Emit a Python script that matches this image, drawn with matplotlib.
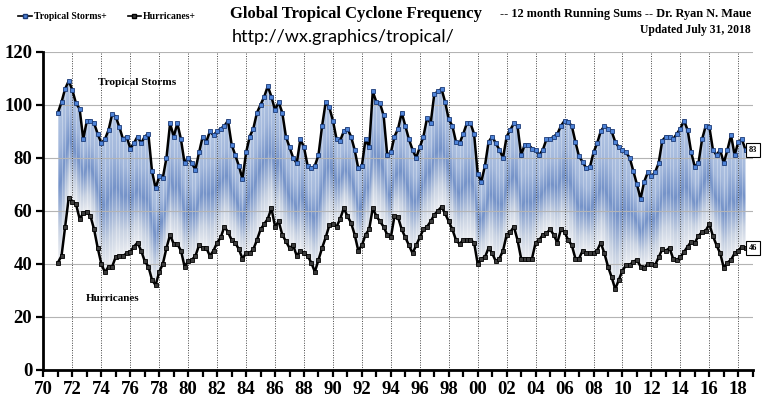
import numpy as np
import matplotlib
matplotlib.use('Agg')
import matplotlib.pyplot as plt
from matplotlib.colors import LinearSegmentedColormap
from matplotlib.patches import Polygon
from matplotlib.lines import Line2D

# 12-month running sums at quarterly steps (Jan 1971 .. Jul 2018)
tropical_storms = [
    97, 101, 106, 109,      # 1971
    105.5, 100.5, 98.5, 87,  # 1972
    94, 94, 93, 89,          # 1973
    85.5, 87, 90.5, 96.5,    # 1974
    95.5, 91.5, 87, 88,      # 1975
    83.5, 85.5, 88, 85.5,    # 1976
    88, 89, 75, 68.5,        # 1977
    73, 72.5, 80, 93,        # 1978
    88, 93, 87, 78,          # 1979
    80, 78, 75.5, 82,        # 1980
    88, 86, 90, 88.5,        # 1981
    90, 91, 92, 94,          # 1982
    85, 81, 77, 72,          # 1983
    82, 88, 91, 97,          # 1984
    100, 103, 107, 103,      # 1985
    98, 101, 97, 88,         # 1986
    84, 80, 78, 87,          # 1987
    84, 77, 76, 77,          # 1988
    81, 92, 101, 99,         # 1989
    94, 87, 86.5, 90,        # 1990
    91, 88, 83, 76,          # 1991
    77, 87, 84, 105,         # 1992
    101, 100.5, 96, 81,      # 1993
    82, 88, 91, 97,          # 1994
    92, 87, 83, 80,          # 1995
    84, 88, 95, 93,          # 1996
    104, 105, 106, 101,      # 1997
    94.5, 92, 86, 85.5,      # 1998
    89, 93, 93, 89,          # 1999
    74, 71, 77, 86,          # 2000
    88, 85.5, 83, 80,        # 2001
    88, 90.5, 93, 92,        # 2002
    81, 85, 85, 83.5,        # 2003
    83, 81, 83, 87,          # 2004
    87, 88, 89, 92,          # 2005
    94, 93.5, 92, 86,        # 2006
    80.5, 78.5, 76, 76.5,    # 2007
    82, 85.5, 90, 92,        # 2008
    91, 90, 86, 84,          # 2009
    83, 82, 80, 75,          # 2010
    70, 64.5, 71, 74.5,      # 2011
    73, 74.5, 78, 86.5,      # 2012
    88, 88, 87, 89,          # 2013
    91, 94, 90.5, 82,        # 2014
    76.6, 78, 87, 92,        # 2015
    91.7, 83, 81, 83,        # 2016
    78, 83, 88.5, 81,        # 2017
    86, 87, 83,              # 2018
]

hurricanes = [
    40.5, 43, 54, 65,        # 1971
    63.4, 62.5, 57, 59,      # 1972
    59.7, 58, 53, 46,        # 1973
    40, 36.8, 39, 39,        # 1974
    42.7, 43, 43, 44,        # 1975
    44.6, 46.5, 48, 45,      # 1976
    41, 39, 34, 32,          # 1977
    37, 40, 46, 51,          # 1978
    47.5, 47.5, 45, 39,      # 1979
    41, 41.5, 43, 47,        # 1980
    46, 46, 43, 45,          # 1981
    48, 50, 54, 52,          # 1982
    49, 48, 45.5, 42,        # 1983
    44, 44, 45.5, 49,        # 1984
    53, 55, 57, 61,          # 1985
    54, 56, 51, 48.5,        # 1986
    46, 47, 43, 45,          # 1987
    44, 43, 40.5, 37,        # 1988
    41.5, 46, 50, 54.5,      # 1989
    55, 54, 57, 61,          # 1990
    58, 55.5, 51, 45,        # 1991
    47, 51, 53, 61,          # 1992
    58, 56, 54, 51,          # 1993
    50, 58, 57.5, 53,        # 1994
    50, 47, 44, 47,          # 1995
    50, 53, 54, 56,          # 1996
    58.5, 60, 61.5, 59,      # 1997
    56, 53, 49, 47.5,        # 1998
    49, 49, 49, 48,          # 1999
    40, 42, 42.5, 46,        # 2000
    44, 41, 42, 45,          # 2001
    51, 52, 54, 49,          # 2002
    42, 42, 42, 42,          # 2003
    48, 49, 51, 51.5,        # 2004
    53, 51, 48, 53,          # 2005
    52, 49, 47, 42,          # 2006
    42, 45, 44, 44,          # 2007
    44, 45, 48, 44,          # 2008
    39, 35, 30.5, 34,        # 2009
    37.5, 39.5, 39.6, 40.8,  # 2010
    41.5, 39, 38.5, 40,      # 2011
    40, 39.5, 42.5, 45.5,    # 2012
    45, 46, 42, 41.5,        # 2013
    42.5, 44.5, 46.5, 48.4,  # 2014
    48, 50.5, 52, 52.5,      # 2015
    55, 50.5, 47, 44,        # 2016
    38.5, 40.5, 41.5, 44,    # 2017
    45, 46.5, 46,            # 2018
]

years = 1971 + 0.25 * np.arange(len(tropical_storms))
ts = np.array(tropical_storms, dtype=float)
hu = np.array(hurricanes, dtype=float)

serif = 'Liberation Serif'

fig = plt.figure(figsize=(7.7, 4.0), dpi=100)
ax = fig.add_axes([0.0564, 0.075, 0.9212, 0.7958])
ax.set_xlim(1970, 2019)
ax.set_ylim(0, 120)

# gradient shading between the two curves, clipped to the band
cmap = LinearSegmentedColormap.from_list('band', [
    (0.0, '#eceef2'), (0.2, '#c9d3e3'), (0.5, '#7593c9'),
    (0.75, '#a3b8dc'), (1.0, '#b2c5e3')])
xg = np.linspace(years[0], years[-1], 1600)
yg = np.linspace(0, 120, 700)
lo = np.interp(xg, years, hu)
hi = np.interp(xg, years, ts)
frac = np.clip((yg[:, None] - lo[None, :]) / (hi - lo)[None, :], 0, 1)
im = ax.imshow(frac, extent=[xg[0], xg[-1], 0, 120], origin='lower',
               cmap=cmap, vmin=0, vmax=1, aspect='auto', zorder=1,
               interpolation='bilinear')
band = Polygon(np.column_stack([np.r_[years, years[::-1]], np.r_[ts, hu[::-1]]]),
               closed=True, facecolor='none', edgecolor='none')
ax.add_patch(band)
im.set_clip_path(band)
ax.vlines(years, hu, ts, colors='white', alpha=0.3, lw=0.7, zorder=1.2)

# grid
for v in range(20, 121, 20):
    ax.axhline(v, color='#b4b4b4', lw=0.8, zorder=1.5)
for yr in range(1972, 2019, 2):
    ax.axvline(yr, color='#444444', lw=0.7, ls=(0, (1, 1.5)), zorder=1.5)

ax.plot(years, ts, color='black', lw=1.8, marker='s', ms=3.4,
        mfc='#4f84d8', mec='#1d3c78', mew=0.6, zorder=3)
ax.plot(years, hu, color='black', lw=1.8, marker='s', ms=3.4,
        mfc='#3a3a3a', mec='black', mew=0.6, zorder=3)

ax.text(1976.5, 108.3, 'Tropical Storms', family=serif, fontweight='bold',
        fontsize=8.2, ha='center', va='center', zorder=4)
ax.text(1974.8, 27, 'Hurricanes', family=serif, fontweight='bold',
        fontsize=8, ha='center', va='center', zorder=4)

# end-value boxes
for val in (ts[-1], hu[-1]):
    ax.annotate(f'{val:.0f}', xy=(years[-1], val), xytext=(2018.75, val),
                family=serif, fontweight='bold', fontsize=6, ha='left',
                va='center', annotation_clip=False,
                bbox=dict(boxstyle='square,pad=0.35', fc='white', ec='black', lw=0.8))

# axes styling
for side in ('top', 'right'):
    ax.spines[side].set_visible(False)
for side in ('left', 'bottom'):
    ax.spines[side].set_linewidth(2.0)
ax.set_xticks(range(1970, 2019, 2))
ax.set_xticklabels([f'{y % 100:02d}' for y in range(1970, 2019, 2)])
ax.set_xticks(range(1971, 2020, 2), minor=True)
ax.set_yticks(range(0, 121, 20))
ax.tick_params(which='both', direction='out', length=5, width=1.6)
ax.tick_params(axis='both', labelsize=13.5, pad=3)
for lab in ax.get_xticklabels() + ax.get_yticklabels():
    lab.set_family(serif)
    lab.set_fontweight('bold')

# header
fig.text(0.2987, 0.955, 'Global Tropical Cyclone Frequency', family=serif,
         fontweight='bold', fontsize=12, ha='left', va='baseline')
fig.text(0.9753, 0.9575, '-- 12 month Running Sums -- Dr. Ryan N. Maue', family=serif,
         fontweight='bold', fontsize=8.8, ha='right', va='baseline')
fig.text(0.9753, 0.9175, 'Updated July 31, 2018', family=serif,
         fontweight='bold', fontsize=8.4, ha='right', va='baseline')
fig.text(0.3013, 0.895, 'http://wx.graphics/tropical/', family='Lato',
         fontsize=13, ha='left', va='baseline')

handles = [
    Line2D([], [], color='black', lw=1.2, marker='s', ms=2.6, mfc='#4f84d8', mec='#1d3c78'),
    Line2D([], [], color='black', lw=1.2, marker='s', ms=2.6, mfc='#3a3a3a', mec='black'),
]
fig.legend(handles, ['Tropical Storms+', 'Hurricanes+'], loc='center left',
           bbox_to_anchor=(0.012, 0.958), ncol=2, frameon=False,
           prop={'family': serif, 'size': 7, 'weight': 'bold'}, handlelength=1.4,
           handletextpad=0.2, columnspacing=2.2)

fig.savefig('out.png', dpi=100)
